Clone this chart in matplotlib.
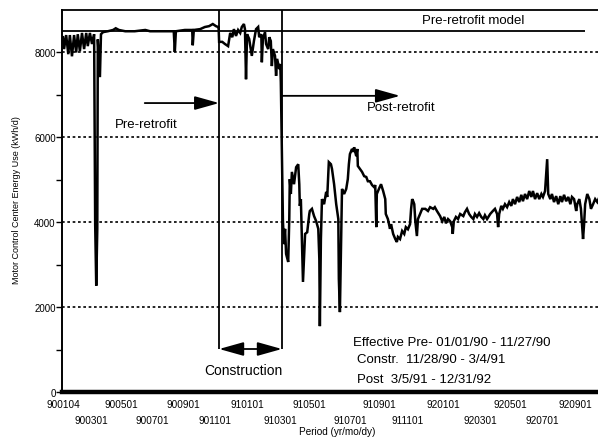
import matplotlib
matplotlib.use("Agg")
import matplotlib.pyplot as plt

plt.rcParams['font.family'] = ['Liberation Sans', 'DejaVu Sans']

# ---- data -------------------------------------------------------------
# x positions are record-day indices counted from the first record (900104)
tick_labels = ['900104', '900301', '900501', '900701', '900901', '901101',
               '910101', '910301', '910501', '910701', '910901', '911101',
               '920101', '920301', '920501', '920701', '920901']
tick_days = [0, 53, 110, 169, 228, 288, 349, 412, 467, 544, 599, 654,
             721, 791, 848, 908, 971]

# daily motor control center energy use (kWh/d)
pre_days = [0, 2, 6, 10, 13, 17, 21, 25, 28, 32, 36, 40, 44, 47, 51, 55, 59,
            61, 63, 65, 66, 70, 72, 76, 85, 95, 100, 106, 118, 136, 156, 165,
            184, 203, 210, 212, 214, 231, 245, 246, 248, 260, 269, 277, 284,
            290, 294]
pre_kwh = [8350, 8070, 8400, 7950, 8400, 7900, 8400, 7990, 8420, 8020, 8450,
           8070, 8450, 8140, 8450, 8190, 8420, 3950, 2500, 3840, 8300, 7410,
           8420, 8470, 8490, 8520, 8560, 8520, 8490, 8490, 8520, 8490, 8490,
           8490, 8490, 8000, 8490, 8520, 8520, 8160, 8520, 8540, 8590, 8610,
           8660, 8610, 8590]

con_days = [295, 296, 302, 307, 313, 317, 321, 324, 328, 332, 336, 339, 343,
            345, 347, 349, 353, 356, 358, 362, 366, 370, 372, 376, 377, 379,
            383, 385, 389, 391, 394, 396, 398, 402, 404, 406, 410, 412, 413]
con_kwh = [8590, 8240, 8240, 8190, 8140, 8450, 8350, 8540, 8380, 8520, 8450,
           8590, 8660, 8540, 7360, 8420, 8310, 8070, 7910, 8260, 8540, 8590,
           8350, 8420, 7760, 8310, 8470, 8190, 8070, 8350, 8260, 7670, 8070,
           7910, 7440, 7840, 7600, 7720, 7290]

post_days = [417, 419, 421, 423, 427, 429, 430, 432, 434, 438, 442, 446, 448,
             449, 451, 453, 455, 457, 459, 463, 467, 468, 472, 476, 480, 484,
             486, 487, 489, 491, 495, 499, 501, 504, 508, 510, 514, 518, 522,
             523, 525, 527, 529, 533, 537, 540, 542, 544, 548, 550, 552, 556,
             558, 559, 563, 567, 571, 575, 578, 582, 586, 590, 592, 594, 595,
             599, 603, 607, 611, 612, 616, 620, 622, 626, 630, 633, 635, 639,
             643, 647, 650, 654, 658, 660, 662, 664, 666, 668, 671, 673, 677,
             681, 687, 692, 696, 702, 705, 709, 715, 719, 723, 726, 730, 734,
             738, 739, 741, 745, 749, 753, 759, 762, 766, 770, 774, 778, 781,
             785, 789, 793, 797, 800, 804, 810, 815, 819, 823, 825, 827, 831,
             834, 838, 842, 846, 850, 853, 857, 861, 865, 869, 872, 876, 880,
             884, 888, 891, 895, 899, 903, 907, 910, 914, 918, 920, 924, 927,
             931, 935, 939, 943, 946, 950, 954, 958, 962, 965, 969, 973, 975,
             979, 982, 986, 988, 990, 994, 998, 1001, 1005, 1009, 1013, 1017]
post_kwh = [4020, 3480, 3840, 3250, 3060, 4070, 5010, 4660, 5180, 4890, 5290,
            5360, 4890, 4380, 4540, 3600, 2590, 3130, 3720, 3760, 4190, 4260,
            4310, 4140, 4020, 3840, 3130, 1550, 3600, 4540, 4420, 4710, 4590,
            5410, 5360, 5250, 4890, 4420, 4070, 2660, 1880, 3360, 4780, 4660,
            4780, 5010, 5360, 5600, 5720, 5650, 5760, 5550, 5720, 5320, 5250,
            5180, 5080, 5060, 4960, 4960, 4870, 4820, 4870, 3880, 4660, 4780,
            4890, 4730, 4540, 4190, 4070, 3840, 3950, 3720, 3600, 3530, 3650,
            3600, 3790, 3720, 3880, 3830, 3950, 4310, 4540, 4490, 4420, 4020,
            3670, 4070, 4190, 4310, 4310, 4260, 4350, 4310, 4350, 4260, 4140,
            4020, 4120, 3970, 4070, 4020, 3880, 3720, 4020, 4120, 4070, 4190,
            4140, 4230, 4310, 4190, 4120, 4070, 4190, 4120, 4210, 4120, 4070,
            4160, 4070, 4190, 4260, 4310, 4190, 3880, 4190, 4380, 4310, 4420,
            4350, 4470, 4380, 4540, 4420, 4590, 4470, 4640, 4490, 4660, 4540,
            4730, 4590, 4730, 4540, 4680, 4540, 4660, 4590, 4730, 5480, 4660,
            4540, 4660, 4470, 4610, 4420, 4610, 4470, 4640, 4490, 4590, 4420,
            4590, 4540, 4260, 4420, 4540, 4310, 3600, 3950, 4420, 4660, 4540,
            4310, 4420, 4540, 4470, 4590]

model_kwh = 8500          # pre-retrofit model level
model_end_day = 990
constr_start_day = 296
constr_end_day = 415

# ---- figure -----------------------------------------------------------
W, H = 598, 439
fig = plt.figure(figsize=(W / 100, H / 100), dpi=100)
ax = fig.add_axes([62 / W, (H - 393) / H, (640 - 62) / W, (393 - 11) / H])

days = pre_days + con_days + post_days
kwh = pre_kwh + con_kwh + post_kwh
ax.plot(days, kwh, color='black', lw=1.8, solid_joinstyle='miter', zorder=3)

ax.set_xlim(-1.9, 1094)
ax.set_ylim(0, 8990)

# dotted reference lines
for v in [2000, 4000, 6000, 8000]:
    ax.axhline(v, color='black', lw=1.2, ls=(0, (1.6, 1.6)), zorder=1)

# pre-retrofit model
ax.hlines(model_kwh, -1.9, model_end_day, color='black', lw=1.3, zorder=2)

# construction period boundaries
ax.vlines([constr_start_day, constr_end_day], 1012, 8990, color='black',
          lw=1.3, zorder=2)

arrow_kw = dict(arrowstyle='-|>,head_length=1.5,head_width=0.42',
                mutation_scale=10, color='black', lw=1.3,
                shrinkA=0, shrinkB=0)
ax.annotate('', xy=(constr_start_day, 6800), xytext=(155, 6800),
            arrowprops=arrow_kw)
ax.annotate('', xy=(639, 6970), xytext=(constr_end_day, 6970),
            arrowprops=arrow_kw)
both_kw = dict(arrow_kw, arrowstyle='<|-|>,head_length=1.5,head_width=0.42')
ax.annotate('', xy=(constr_end_day, 1012), xytext=(constr_start_day, 1012),
            arrowprops=both_kw)

# axes styling
ax.spines['right'].set_visible(False)
ax.spines['left'].set_linewidth(1.4)
ax.spines['top'].set_linewidth(1.3)
ax.spines['bottom'].set_linewidth(3.2)

ax.set_yticks([0, 2000, 4000, 6000, 8000])
ax.set_yticks([1000, 3000, 5000, 7000], minor=True)
ax.tick_params(axis='y', which='both', direction='out', length=4, width=1,
               pad=0.5, labelsize=7)

ax.set_xticks(tick_days[0::2])
ax.set_xticklabels(tick_labels[0::2])
ax.set_xticks(tick_days[1::2], minor=True)
ax.set_xticklabels(tick_labels[1::2], minor=True)
ax.tick_params(axis='x', which='major', length=0, pad=5, labelsize=7.2)
ax.tick_params(axis='x', which='minor', length=0, pad=16.5, labelsize=7.2)


def px(x, y):
    return x / W, 1 - y / H


fig.text(*px(17, 200), 'Motor Control Center Energy Use (kWh/d)',
         rotation=90, ha='center', va='center', fontsize=6.5)
fig.text(*px(337, 432), 'Period (yr/mo/dy)', ha='center', va='center',
         fontsize=7.2)

fig.text(*px(473, 21), 'Pre-retrofit model', ha='center', va='center',
         fontsize=9.5)
fig.text(*px(146, 125), 'Pre-retrofit', ha='center', va='center',
         fontsize=9.5)
fig.text(*px(401, 108), 'Post-retrofit', ha='center', va='center',
         fontsize=9.5)
fig.text(*px(243, 371), 'Construction', ha='center', va='center',
         fontsize=10)
fig.text(*px(353, 343), 'Effective Pre- 01/01/90 - 11/27/90', ha='left',
         va='center', fontsize=9.5)
fig.text(*px(357, 360), 'Constr.  11/28/90 - 3/4/91', ha='left',
         va='center', fontsize=9.5)
fig.text(*px(357, 380), 'Post  3/5/91 - 12/31/92', ha='left',
         va='center', fontsize=9.5)

fig.savefig('out.png', dpi=100)
